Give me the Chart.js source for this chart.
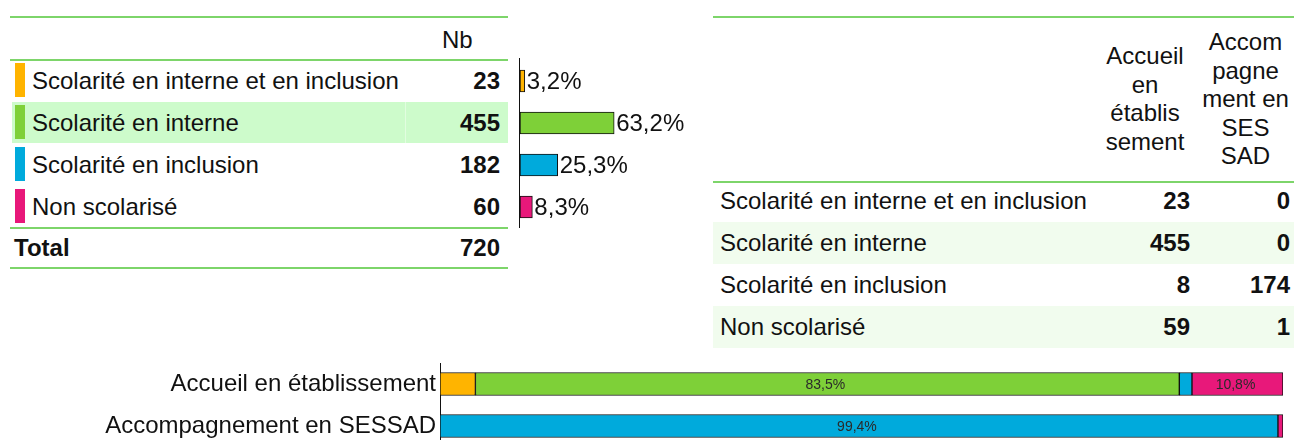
<!DOCTYPE html>
<html>
<head>
<meta charset="utf-8">
<script src="https://cdn.jsdelivr.net/npm/chart.js@4.4.0/dist/chart.umd.min.js"></script>
<style>
  html, body { margin: 0; padding: 0; background: #fff; width: 1294px; height: 440px; overflow: hidden; }
  body { position: relative; font-family: "Liberation Sans", Arial, sans-serif; font-size: 24px; color: #111; }
  .abs { position: absolute; }
  .hline { position: absolute; height: 2px; background: #7dd56a; }
  .cell { position: absolute; height: 42px; line-height: 42px; white-space: nowrap; }
  .num { text-align: right; font-weight: bold; }
  .mark { position: absolute; width: 10px; height: 34px; }
  .head { position: absolute; text-align: center; line-height: 28.5px; white-space: nowrap; }
</style>
</head>
<body>
<div id="tables"></div>
<canvas id="pct-chart" class="abs" width="195" height="174" style="left:505px;top:56px"></canvas>
<canvas id="stack-chart" class="abs" width="1294" height="84" style="left:0;top:363px"></canvas>

<script>
const categories = [
  "Scolarité en interne et en inclusion",
  "Scolarité en interne",
  "Scolarité en inclusion",
  "Non scolarisé",
];
const colors = ["#FFB400", "#7ED038", "#00AADC", "#E8187A"];

const nbTotal = [23, 455, 182, 60];
const totalNb = 720;
const pctTotal = [3.2, 63.2, 25.3, 8.3];

const nbEtab = [23, 455, 8, 59];
const nbSessad = [0, 0, 174, 1];

const modes = ["Accueil en établissement", "Accompagnement en SESSAD"];
const pctEtab = [4.2, 83.5, 1.5, 10.8];
const pctSessad = [0, 0, 99.4, 0.6];

function formatPct(value) {
  return value.toFixed(1).replace(".", ",") + "%";
}

const root = document.getElementById("tables");

function addEl(cls, style, html) {
  const el = document.createElement("div");
  el.className = cls;
  el.style.cssText = style;
  if (html !== undefined) el.innerHTML = html;
  root.appendChild(el);
  return el;
}

// left table
addEl("hline", "left:10px;top:16px;width:498px");
addEl("cell", "left:442px;top:19px", "Nb");
addEl("hline", "left:10px;top:59px;width:498px");
categories.forEach((cat, i) => {
  const top = 60 + i * 42;
  if (i === 1) {
    addEl("abs", `left:12px;top:${top}px;width:496px;height:41px;background:#cdfbcb`);
    addEl("abs", `left:405px;top:${top}px;width:1px;height:41px;background:#e2fde0`);
  }
  addEl("mark", `left:15px;top:${top + 3}px;background:${colors[i]}`);
  addEl("cell", `left:32px;top:${top}px`, cat);
  addEl("cell num", `left:405px;top:${top}px;width:95px`, nbTotal[i]);
});
addEl("hline", "left:10px;top:227px;width:498px");
addEl("cell", "left:14px;top:228px;font-weight:bold;height:40px;line-height:40px", "Total");
addEl("cell num", "left:405px;top:228px;width:95px;height:40px;line-height:40px", totalNb);
addEl("hline", "left:10px;top:267px;width:498px");

// right table
addEl("hline", "left:713px;top:16px;width:581px");
addEl("head", "left:1095px;top:42px;width:100px", "Accueil<br>en<br>établis<br>sement");
addEl("head", "left:1197px;top:28px;width:97px", "Accom<br>pagne<br>ment en<br>SES<br>SAD");
addEl("hline", "left:713px;top:181px;width:581px");
categories.forEach((cat, i) => {
  const top = 180 + i * 42;
  if (i % 2 === 1) {
    addEl("abs", `left:713px;top:${top}px;width:581px;height:42px;background:#f1fcee`);
  }
  addEl("cell", `left:720px;top:${top}px`, cat);
  addEl("cell num", `left:1100px;top:${top}px;width:90px`, nbEtab[i]);
  addEl("cell num", `left:1200px;top:${top}px;width:90px`, nbSessad[i]);
});

// plugins
const axisLine = {
  id: "axisLine",
  afterDatasetsDraw(chart) {
    const { ctx, chartArea, scales } = chart;
    const x = Math.round(scales.x.getPixelForValue(0)) - 0.5;
    ctx.save();
    ctx.strokeStyle = "#111";
    ctx.lineWidth = 1;
    ctx.beginPath();
    ctx.moveTo(x, chartArea.top - 2);
    ctx.lineTo(x, chartArea.bottom);
    ctx.stroke();
    ctx.restore();
  },
};

const endLabels = {
  id: "endLabels",
  afterDatasetsDraw(chart) {
    const { ctx } = chart;
    const meta = chart.getDatasetMeta(0);
    ctx.save();
    ctx.font = '24px "Liberation Sans", Arial, sans-serif';
    ctx.fillStyle = "#111";
    ctx.textBaseline = "middle";
    meta.data.forEach((bar, i) => {
      ctx.fillText(formatPct(pctTotal[i]), bar.x + 2, bar.y + 1);
    });
    ctx.restore();
  },
};

const innerLabels = {
  id: "innerLabels",
  afterDatasetsDraw(chart) {
    const { ctx } = chart;
    ctx.save();
    ctx.font = '14px "Liberation Sans", Arial, sans-serif';
    ctx.fillStyle = "#2a2a2a";
    ctx.textAlign = "center";
    ctx.textBaseline = "middle";
    chart.data.datasets.forEach((ds, di) => {
      chart.getDatasetMeta(di).data.forEach((bar, i) => {
        const v = ds.data[i];
        if (v < 5) return;
        const p = bar.getCenterPoint();
        ctx.fillText(formatPct(v), p.x - 2, p.y + 1);
      });
    });
    ctx.restore();
  },
};

new Chart(document.getElementById("pct-chart"), {
  type: "bar",
  data: {
    labels: categories,
    datasets: [{
      data: pctTotal,
      backgroundColor: colors,
      borderColor: "#111",
      borderWidth: 1,
      borderSkipped: false,
      barThickness: 22,
    }],
  },
  options: {
    indexAxis: "y",
    responsive: false,
    animation: false,
    events: [],
    layout: { padding: { left: 15, right: 31, top: 4, bottom: 2 } },
    plugins: { legend: { display: false }, tooltip: { enabled: false } },
    scales: {
      x: { display: false, min: 0, max: 100 },
      y: { display: false },
    },
  },
  plugins: [axisLine, endLabels],
});

new Chart(document.getElementById("stack-chart"), {
  type: "bar",
  data: {
    labels: modes,
    datasets: categories.map((cat, i) => ({
      label: cat,
      data: [pctEtab[i], pctSessad[i]],
      backgroundColor: colors[i],
      borderColor: "#111",
      borderWidth: 1,
      borderSkipped: false,
      barThickness: 23,
    })),
  },
  options: {
    indexAxis: "y",
    responsive: false,
    animation: false,
    events: [],
    layout: { padding: { left: 0, right: 11, top: 0, bottom: 0 } },
    plugins: { legend: { display: false }, tooltip: { enabled: false } },
    scales: {
      x: { display: false, stacked: true, min: 0, max: 100 },
      y: {
        stacked: true,
        grid: { display: false, drawTicks: false },
        border: { display: true, color: "#111", width: 1 },
        ticks: {
          color: "#111",
          padding: 4,
          font: { family: '"Liberation Sans", Arial, sans-serif', size: 24 },
        },
        afterFit(scale) {
          scale.width = 440;
          scale.paddingTop = 0;
          scale.paddingBottom = 0;
        },
      },
    },
  },
  plugins: [innerLabels],
});
</script>
</body>
</html>
